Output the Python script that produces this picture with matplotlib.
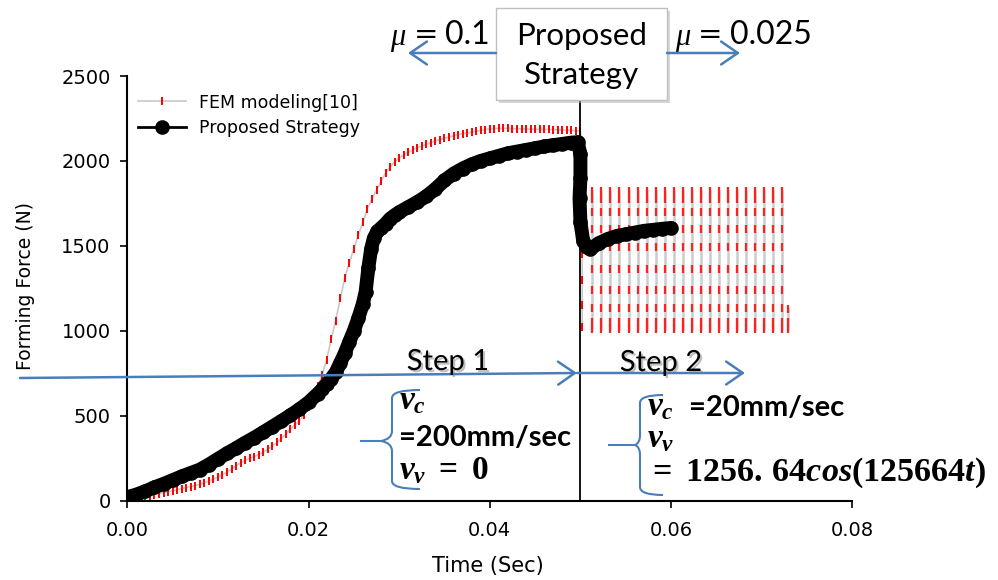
import numpy as np
import matplotlib.pyplot as plt
from matplotlib import patheffects
from matplotlib.patches import FancyArrowPatch, PathPatch, Rectangle
from matplotlib.path import Path

plt.rcParams['font.family'] = 'DejaVu Sans'
plt.rcParams['mathtext.fontset'] = 'custom'
plt.rcParams['mathtext.rm'] = 'Liberation Serif:bold'
plt.rcParams['mathtext.it'] = 'Liberation Serif:bold:italic'

# FEM modeling[10], time in ms
fem_ms = [0, 0.5, 1, 1.5, 2, 2.5, 3, 3.5, 4, 4.5, 5, 5.5, 6, 6.5, 7, 7.5, 8, 8.5, 9, 9.5,
          10, 10.5, 11, 11.5, 12, 12.5, 13, 13.5, 14, 14.5, 15, 15.5, 16, 16.5, 17, 17.5,
          18, 18.5, 19, 19.5, 20, 20.5, 21, 21.5, 22, 22.5, 23, 23.5, 24, 24.5, 25, 25.5,
          26, 26.5, 27, 27.5, 28, 28.5, 29, 29.5, 30, 30.5, 31, 31.5, 32, 32.5, 33, 33.5,
          34, 34.5, 35, 35.5, 36, 36.5, 37, 37.5, 38, 38.5, 39, 39.5, 40, 40.5, 41, 41.5,
          42, 42.5, 43, 43.5, 44, 44.5, 45, 45.5, 46, 46.5, 47, 47.5, 48, 48.5, 49, 49.5,
          50, 50.2, 50.2, 50.2, 50.2, 50.2, 50.2, 50.2, 50.2]
fem_force = [0, 5, 10, 16, 22, 28, 34, 40, 46, 52, 58, 64, 70, 76, 82, 88, 95, 105, 115, 125,
             138, 152, 168, 186, 205, 222, 236, 248, 258, 270, 285, 302, 320, 342, 366, 392,
             420, 445, 470, 505, 550, 610, 672, 740, 830, 950, 1060, 1190, 1310, 1400, 1482, 1565,
             1640, 1719, 1775, 1830, 1880, 1928, 1965, 1995, 2018, 2036, 2050, 2065, 2078, 2088, 2098, 2108,
             2118, 2126, 2134, 2140, 2148, 2154, 2160, 2164, 2170, 2175, 2180, 2184, 2188, 2190, 2192, 2192,
             2192, 2190, 2190, 2189, 2188, 2188, 2187, 2186, 2185, 2185, 2184, 2183, 2182, 2182, 2180, 2178,
             2175, 2050, 1900, 1750, 1600, 1450, 1300, 1150, 1020]

# FEM oscillation after the switch: column times (ms) and dash levels (N)
osc_ms = [51.3, 52.3, 53.3, 54.3, 55.4, 56.3, 57.3, 58.3, 59.3, 60.3, 61.3,
          62.3, 63.3, 64.3, 65.3, 66.3, 67.3, 68.3, 69.3, 70.3, 71.3, 72.2]
osc_levels = [1825, 1775, 1700, 1600, 1490, 1365, 1240, 1135, 1050, 1010]
osc_last_ms = 72.9
osc_last_levels = [1130, 1050, 1010]

# Proposed Strategy, time in ms
ps_ms = [0, 1, 2, 3, 4, 5, 6, 7, 8, 9, 10, 11, 12, 13, 14, 15, 16, 17, 18, 19, 20,
         21, 21.5, 22, 22.5, 23, 23.5, 24, 24.5, 25, 25.5, 26, 26.3, 26.6, 26.9, 27.2, 27.6,
         28, 28.5, 29, 29.5, 30, 31, 32, 33, 34, 35, 36, 37, 38, 39, 40, 41, 42, 43, 44,
         45, 46, 47, 48, 49, 49.7, 50.0, 50.0, 49.9, 50.0, 50.3, 50.7, 51.1,
         52, 53, 54, 55, 56, 57, 58, 59, 60]
ps_force = [20, 35, 55, 78, 98, 120, 142, 162, 182, 212, 245, 278, 308, 340, 370, 402, 435, 468, 502, 538, 578,
            628, 655, 688, 718, 755, 810, 868, 935, 1000, 1075, 1160, 1230, 1370, 1480, 1545, 1585,
            1605, 1630, 1660, 1680, 1698, 1728, 1758, 1792, 1835, 1885, 1925, 1955, 1980, 2000, 2015, 2030, 2045, 2055, 2065,
            2075, 2085, 2093, 2100, 2108, 2110, 2040, 1900, 1780, 1640, 1530, 1490, 1480,
            1515, 1540, 1558, 1568, 1578, 1588, 1594, 1600, 1605]

switch_t = 0.05
x_ticks = [0.00, 0.02, 0.04, 0.06, 0.08]
y_ticks = [0, 500, 1000, 1500, 2000, 2500]

blue = '#4a7ebb'
W, H = 998, 580


def fx(x):
    return x / W


def fy(y):
    return 1 - y / H


fig = plt.figure(figsize=(W / 100, H / 100), dpi=100)
ax = fig.add_axes([127.3 / W, 79.5 / H, 725 / W, 424.5 / H])

fem_t = np.array(fem_ms) / 1000
ps_t = np.array(ps_ms) / 1000

# FEM curve: grey line with red dashes
ax.plot(fem_t, fem_force, color='#c8c8c8', lw=1.2, marker='|', ms=6, mec='red', mew=1.4,
        label='FEM modeling[10]', zorder=2)
# oscillation columns
col_t, col_f = [], []
for t in osc_ms:
    col_t += [t / 1000] * len(osc_levels) + [np.nan]
    col_f += osc_levels + [np.nan]
col_t += [osc_last_ms / 1000] * len(osc_last_levels)
col_f += osc_last_levels
ax.plot(col_t, col_f, color='#cccccc', lw=1.8, marker='|', ms=5.5, mec='#ff2020', mew=1.6, zorder=2)

# Proposed strategy: dense black dots
ax.plot(ps_t, ps_force, color='black', lw=10, solid_capstyle='round', solid_joinstyle='round', zorder=3)
ax.plot(ps_t, ps_force, color='black', lw=2, marker='o', ms=9.5, label='Proposed Strategy', zorder=4)

ax.axvline(switch_t, ymin=0, ymax=0.945, color='black', lw=1.3, zorder=5)

ax.set_xlim(0, 0.08)
ax.set_ylim(0, 2500)
ax.set_xticks(x_ticks)
ax.set_xticklabels(['%.2f' % v for v in x_ticks])
ax.set_yticks(y_ticks)
for s in ['top', 'right']:
    ax.spines[s].set_visible(False)
for s in ['left', 'bottom']:
    ax.spines[s].set_linewidth(1.5)
ax.tick_params(axis='both', direction='out', length=5, width=1.2, labelsize=14)
ax.tick_params(axis='x', pad=10)
ax.tick_params(axis='y', pad=7)
ax.set_xlabel('Time (Sec)', fontsize=15)
ax.set_ylabel('Forming Force (N)', fontsize=13.5)
ax.xaxis.set_label_coords(0.498, -0.13)
ax.yaxis.set_label_coords(-0.128, 0.505)

ax.legend(loc='upper left', bbox_to_anchor=(0.005, 0.975), frameon=False, fontsize=12.5,
          handlelength=2.8, handletextpad=0.7, labelspacing=0.45, borderaxespad=0)

# top box
box = Rectangle((fx(496), fy(100)), 171 / W, 92 / H, transform=fig.transFigure,
                facecolor='white', edgecolor='#c0c0c0', lw=1, zorder=6,
                path_effects=[patheffects.withSimplePatchShadow(offset=(2, -2), shadow_rgbFace='#b0b0b0', alpha=0.5)])
fig.add_artist(box)
fig.text(fx(581.5), fy(36), 'Proposed', fontsize=22.5, family='Lato', ha='center', va='center', zorder=7)
fig.text(fx(581.5), fy(75), 'Strategy', fontsize=22.5, family='Lato', ha='center', va='center', zorder=7)

for mu_x, eq_x, num_x, val in [(390, 414, 445, '0.1'), (675, 698, 730, '0.025')]:
    fig.text(fx(mu_x), fy(38), 'μ', fontsize=22, family='Liberation Serif', style='italic',
             ha='left', va='center')
    fig.text(fx(eq_x), fy(35), '=', fontsize=21, family='DejaVu Sans', ha='left', va='center')
    fig.text(fx(num_x), fy(35), val, fontsize=23, family='Lato', ha='left', va='center')


def arrow(x0, y0, x1, y1):
    a = FancyArrowPatch((fx(x0), fy(y0)), (fx(x1), fy(y1)), transform=fig.transFigure,
                        arrowstyle='->,head_length=0.8,head_width=0.55', mutation_scale=15,
                        color=blue, lw=1.8, shrinkA=0, shrinkB=0, zorder=8)
    fig.add_artist(a)


arrow(496, 53, 408, 53)
arrow(667, 53, 740, 53)
arrow(20, 378, 577, 373)
arrow(577, 373, 745, 373)

shadow = [patheffects.SimplePatchShadow(offset=(1.5, -1.5), shadow_rgbFace='#808080', alpha=0.5),
          patheffects.Normal()]
fig.text(fx(448), fy(362), 'Step 1', fontsize=21, family='Lato', ha='center', va='center',
         path_effects=shadow, zorder=9)
fig.text(fx(661), fy(363), 'Step 2', fontsize=21, family='Lato', ha='center', va='center',
         path_effects=shadow, zorder=9)


def brace(x_tick, x_tip, x_line, x_end, y_top, y_mid, y_bot):
    verts = [(x_tick, y_mid), (x_tip, y_mid),
             (x_tip, y_mid), (x_line, y_mid - 2), (x_line, y_mid - 10),
             (x_line, y_top + 8),
             (x_line, y_top), (x_end, y_top),
             (x_tip, y_mid), (x_line, y_mid + 2), (x_line, y_mid + 10),
             (x_line, y_bot - 8),
             (x_line, y_bot), (x_end, y_bot)]
    codes = [Path.MOVETO, Path.LINETO,
             Path.MOVETO, Path.CURVE3, Path.CURVE3,
             Path.LINETO,
             Path.CURVE3, Path.CURVE3,
             Path.MOVETO, Path.CURVE3, Path.CURVE3,
             Path.LINETO,
             Path.CURVE3, Path.CURVE3]
    verts = [(fx(x), fy(y)) for x, y in verts]
    fig.add_artist(PathPatch(Path(verts, codes), transform=fig.transFigure, fc='none',
                             ec=blue, lw=1.5, zorder=8))


brace(360, 381, 392, 420, 390, 441, 489)
brace(608, 635, 640, 663, 395, 445, 495)

# step 1 conditions
fig.text(fx(399), fy(400), r'$v_c$', fontsize=24, ha='left', va='center', zorder=9)
fig.text(fx(399), fy(438), '=200mm/sec', fontsize=21, family='Lato', weight='bold',
         ha='left', va='center', zorder=9)
fig.text(fx(399), fy(470), r'$v_v\ =\ 0$', fontsize=24, ha='left', va='center', zorder=9)
# step 2 conditions
fig.text(fx(647), fy(406), r'$v_c$', fontsize=24, ha='left', va='center', zorder=9)
fig.text(fx(689), fy(408), '=20mm/sec', fontsize=21, family='Lato', weight='bold',
         ha='left', va='center', zorder=9)
fig.text(fx(647), fy(438), r'$v_v$', fontsize=24, ha='left', va='center', zorder=9)
fig.text(fx(647), fy(473), r'$=\ 1256.\,64cos(125664t)$', fontsize=24.5, ha='left', va='center',
         zorder=9)

fig.savefig('out.png', dpi=100)
